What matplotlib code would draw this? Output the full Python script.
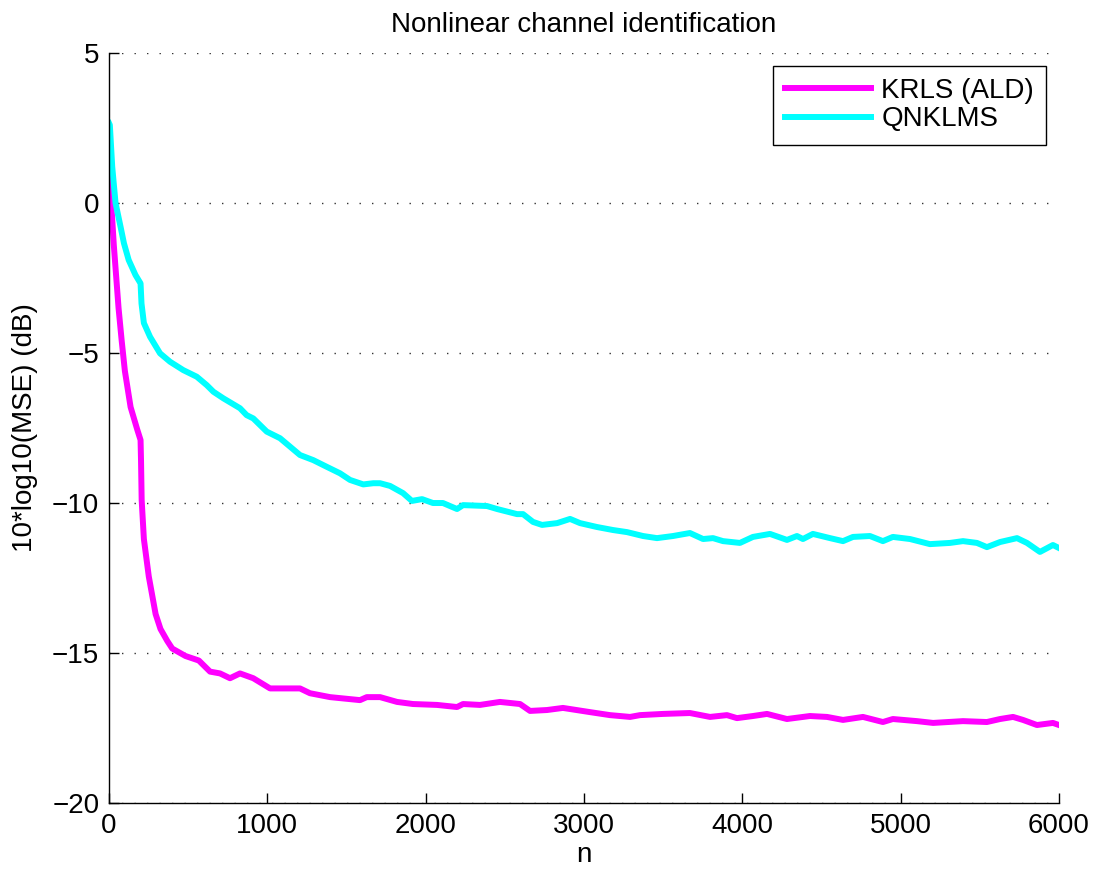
import matplotlib
matplotlib.use("Agg")
import matplotlib.pyplot as plt

plt.rcParams['font.family'] = ['Liberation Sans', 'DejaVu Sans']
plt.rcParams['font.size'] = 20

# learning curves, sample index vs 10*log10(MSE)
n_krls = [0, 30, 60, 80, 100, 136, 178, 199, 202, 206, 220, 251, 294, 325, 368,
          399, 483, 567, 638, 701, 764, 827, 911, 1017, 1206, 1269, 1396, 1585,
          1628, 1712, 1819, 1920, 2072, 2198, 2236, 2343, 2469, 2596, 2659, 2766,
          2867, 3038, 3164, 3291, 3354, 3499, 3669, 3796, 3903, 3966, 4067, 4156,
          4282, 4427, 4535, 4636, 4762, 4888, 4951, 5103, 5205, 5394, 5545, 5628,
          5710, 5773, 5861, 5962, 6000]
mse_krls = [1.2, -1.4, -3.5, -4.6, -5.6, -6.8, -7.55, -7.9, -8.6, -9.9, -11.2,
            -12.45, -13.7, -14.2, -14.6, -14.85, -15.1, -15.25, -15.62, -15.68,
            -15.84, -15.68, -15.84, -16.18, -16.18, -16.34, -16.47, -16.57,
            -16.47, -16.47, -16.63, -16.7, -16.73, -16.8, -16.7, -16.73, -16.63,
            -16.7, -16.93, -16.9, -16.83, -16.97, -17.07, -17.13, -17.07, -17.03,
            -17.0, -17.13, -17.07, -17.17, -17.1, -17.03, -17.2, -17.1, -17.13,
            -17.23, -17.13, -17.3, -17.2, -17.27, -17.33, -17.27, -17.3, -17.2,
            -17.13, -17.23, -17.4, -17.33, -17.4]

n_qnklms = [0, 5, 20, 41, 73, 94, 124, 167, 199, 205, 220, 259, 322, 385, 469,
            554, 617, 659, 722, 827, 869, 911, 996, 1080, 1206, 1290, 1374, 1459,
            1522, 1606, 1669, 1712, 1775, 1857, 1913, 1977, 2046, 2109, 2198,
            2236, 2387, 2451, 2577, 2615, 2678, 2735, 2830, 2912, 2975, 3082,
            3183, 3272, 3373, 3461, 3562, 3669, 3752, 3815, 3878, 3985, 4067,
            4175, 4282, 4345, 4383, 4446, 4554, 4636, 4699, 4806, 4888, 4951,
            5059, 5185, 5312, 5394, 5482, 5545, 5628, 5735, 5798, 5880, 5962,
            6000]
mse_qnklms = [2.66, 2.6, 1.21, 0.0, -0.8, -1.34, -1.9, -2.4, -2.68, -3.35, -4.0,
              -4.46, -5.01, -5.29, -5.57, -5.79, -6.07, -6.29, -6.51, -6.84,
              -7.07, -7.18, -7.62, -7.84, -8.4, -8.57, -8.79, -9.01, -9.23,
              -9.38, -9.34, -9.34, -9.43, -9.67, -9.93, -9.87, -10.0, -10.0,
              -10.2, -10.07, -10.1, -10.2, -10.37, -10.37, -10.63, -10.73,
              -10.67, -10.53, -10.67, -10.8, -10.9, -10.97, -11.1, -11.17, -11.1,
              -11.0, -11.2, -11.17, -11.27, -11.33, -11.13, -11.03, -11.23,
              -11.1, -11.2, -11.03, -11.17, -11.27, -11.13, -11.1, -11.27,
              -11.13, -11.2, -11.37, -11.33, -11.27, -11.33, -11.47, -11.3,
              -11.17, -11.33, -11.63, -11.4, -11.5]

fig = plt.figure(figsize=(10.96, 8.72), dpi=100)
ax = fig.add_axes([0.0995, 0.0791, 0.8667, 0.8601])

ax.plot(n_krls, mse_krls, color='#ff00ff', lw=4.3, label='KRLS (ALD)')
ax.plot(n_qnklms, mse_qnklms, color='#00ffff', lw=4.3, label='QNKLMS')

ax.set_xlim(0, 6000)
ax.set_ylim(-20, 5)
ax.set_xticks(range(0, 6001, 1000))
ax.set_yticks(range(-20, 6, 5))
ax.spines['top'].set_visible(False)
ax.spines['right'].set_visible(False)
for s in ('left', 'bottom'):
    ax.spines[s].set_linewidth(1.0)
ax.tick_params(direction='in', length=7, width=1.0, pad=7)
ax.yaxis.grid(True, linestyle=(0, (1, 8)), color='#333333', lw=1.0)

ax.set_title('Nonlinear channel identification', fontsize=20, pad=15)
ax.set_xlabel('n', labelpad=2)
ax.set_ylabel('10*log10(MSE) (dB)', labelpad=10)

leg = ax.legend(loc='upper right', fancybox=False, edgecolor='black',
                framealpha=1, borderaxespad=0.45, borderpad=0.45,
                labelspacing=0.08, handlelength=3.1, handletextpad=0.35)
leg.get_frame().set_linewidth(1.0)

fig.savefig('out.png', dpi=100)
